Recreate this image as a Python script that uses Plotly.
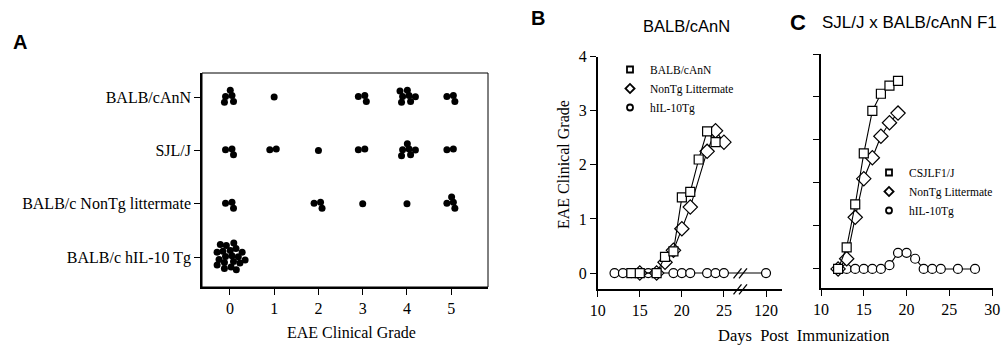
import math
import plotly.graph_objects as go

W, H = 1001, 345

# ---------------- Panel A data (EAE clinical grade per mouse) ----------------
a_groups = ["BALB/cAnN", "SJL/J", "BALB/c NonTg littermate", "BALB/c hIL-10 Tg"]
a_balb = [0, 0, 0, 0, 0, 1, 3, 3, 3, 4, 4, 4, 4, 4, 4, 4, 5, 5, 5]
a_sjl = [0, 0, 0, 1, 1, 2, 3, 3, 4, 4, 4, 4, 4, 4, 5, 5]
a_nontg = [0, 0, 0, 2, 2, 2, 3, 4, 5, 5, 5, 5]
a_hil10 = [0] * 20
a_grade_ticks = [0, 1, 2, 3, 4, 5]

# ---------------- Panel B data (BALB/cAnN) ----------------
b_balb_days = [14, 15, 17, 18, 19, 20, 21, 22, 23, 24]
b_balb_grade = [0, 0, 0, 0.3, 0.4, 1.4, 1.5, 2.1, 2.62, 2.42]
b_nontg_days = [15, 17, 18, 19, 20, 21, 23, 24, 25]
b_nontg_grade = [0, 0, 0.2, 0.42, 0.82, 1.22, 2.25, 2.63, 2.42]
b_hil_days = [12, 13, 14, 15, 16, 17, 19, 20, 21, 23, 24, 25, 120]
b_hil_grade = [0, 0, 0, 0, 0, 0, 0, 0, 0, 0, 0, 0, 0]
b_xticks = [10, 15, 20, 25, 120]
b_yticks = [0, 1, 2, 3, 4]

# ---------------- Panel C data (SJL/J x BALB/cAnN F1) ----------------
c_f1_days = [12, 13, 14, 15, 16, 17, 18, 19]
c_f1_grade = [0, 0.4, 1.2, 2.15, 2.94, 3.26, 3.41, 3.5]
c_nontg_days = [12, 13, 14, 15, 16, 17, 18, 19]
c_nontg_grade = [0, 0.19, 0.96, 1.68, 2.07, 2.47, 2.72, 2.9]
c_hil_days = [12, 13, 14, 15, 16, 17, 18, 19, 20, 21, 22, 23, 24, 26, 28]
c_hil_grade = [0, 0, 0, 0, 0, 0, 0.07, 0.3, 0.3, 0.19, 0, 0, 0, 0, 0]
c_xticks = [10, 15, 20, 25, 30]

SERIF = "Liberation Serif, Times New Roman, serif"
SANS = "Liberation Sans, Arial, sans-serif"

def px_x(p):
    return p / W

def px_y(p):
    return 1 - p / H

# axis break for panel B: days beyond the break are drawn 90 days earlier
def brk(d):
    return d - 90 if d > 26 else d

fig = go.Figure()

# ---------- Panel A: deterministic sunflower packing of the dots ----------
A_XPX, A_YPX = 44.3, 53.4  # px per unit (for converting the packing offsets)
GOLD = math.pi * (3 - math.sqrt(5))
def packed(grades, row):
    xs, ys = [], []
    for g in sorted(set(grades)):
        n = grades.count(g)
        for i in range(n):
            if n == 1:
                ox = oy = 0.0
            else:
                r = 3.6 * math.sqrt(i + 0.5)
                ox, oy = r * math.cos(i * GOLD + 0.6), r * math.sin(i * GOLD + 0.6)
            xs.append(g + ox / A_XPX)
            ys.append(row + oy / A_YPX)
    return xs, ys

for row, grades in zip([3, 2, 1, 0], [a_balb, a_sjl, a_nontg, a_hil10]):
    xs, ys = packed(grades, row)
    fig.add_trace(go.Scatter(x=xs, y=ys, mode="markers", xaxis="x", yaxis="y",
                             marker=dict(size=7, color="black"), showlegend=False,
                             cliponaxis=False, hoverinfo="skip"))

# ---------- Panels B and C ----------
mk = dict(color="white", line=dict(color="black", width=1.2))
def series(days, grades, sym, size, xa, ya, mapper=lambda d: d):
    return go.Scatter(x=[mapper(d) for d in days], y=grades, mode="lines+markers",
                      xaxis=xa, yaxis=ya, line=dict(color="black", width=1.1),
                      marker=dict(symbol=sym, size=size, **mk), showlegend=False,
                      cliponaxis=False)

fig.add_trace(series(b_hil_days, b_hil_grade, "circle", 9, "x2", "y2", brk))
fig.add_trace(series(b_nontg_days, b_nontg_grade, "diamond", 11, "x2", "y2"))
fig.add_trace(series(b_balb_days, b_balb_grade, "square", 9, "x2", "y2"))

fig.add_trace(series(c_hil_days, c_hil_grade, "circle", 9, "x3", "y3"))
fig.add_trace(series(c_nontg_days, c_nontg_grade, "diamond", 11, "x3", "y3"))
fig.add_trace(series(c_f1_days, c_f1_grade, "square", 9, "x3", "y3"))

# legend entries (marker only)
for name, sym, lg in [("BALB/cAnN", "square", "legend"), ("NonTg Littermate", "diamond", "legend"),
                      ("hIL-10Tg", "circle", "legend"),
                      ("CSJLF1/J", "square", "legend2"), ("NonTg Littermate", "diamond", "legend2"),
                      ("hIL-10Tg", "circle", "legend2")]:
    fig.add_trace(go.Scatter(x=[None], y=[None], mode="markers", name=name, legend=lg,
                             xaxis="x2" if lg == "legend" else "x3",
                             yaxis="y2" if lg == "legend" else "y3",
                             marker=dict(symbol=sym, size=6 if sym != "diamond" else 7,
                                         color="white", line=dict(color="black", width=1.8))))

tickfont = dict(family=SERIF, size=16, color="black")
axcommon = dict(showgrid=False, zeroline=False, showline=True, linecolor="black",
                linewidth=1.6, ticks="outside", ticklen=6, tickwidth=1.4,
                tickcolor="black", tickfont=tickfont, automargin=False)

fig.update_layout(
    width=W, height=H, margin=dict(l=0, r=0, t=0, b=0, autoexpand=False),
    paper_bgcolor="white", plot_bgcolor="white",
    font=dict(family=SERIF, color="black"),
    xaxis=dict(domain=[px_x(202), px_x(488)], range=[-0.63, 5.83], anchor="y",
               tickvals=a_grade_ticks, **axcommon),
    yaxis=dict(domain=[px_y(287), px_y(73)], range=[-0.56, 3.45], anchor="x",
               tickvals=[3, 2, 1, 0], ticktext=a_groups, **axcommon),
    xaxis2=dict(domain=[px_x(597.7), px_x(782)], range=[10, 31.9], anchor="y2",
                tickvals=[brk(t) for t in b_xticks], ticktext=[str(t) for t in b_xticks], **axcommon),
    yaxis2=dict(domain=[px_y(289.3), px_y(56.7)], range=[-0.3, 4.0], anchor="x2",
                tickvals=b_yticks, **axcommon),
    xaxis3=dict(domain=[px_x(821), px_x(993)], range=[10, 30.1], anchor="y3",
                tickvals=c_xticks, **axcommon),
    yaxis3=dict(domain=[px_y(288.3), px_y(54)], range=[-0.36, 4.0], anchor="x3",
                tick0=0, dtick=0.8, showticklabels=False, **axcommon),
    legend=dict(x=px_x(610), y=px_y(55), xanchor="left", yanchor="top",
                bgcolor="rgba(0,0,0,0)", font=dict(family=SERIF, size=11.5),
                tracegroupgap=0, itemclick=False),
    legend2=dict(x=px_x(998), y=px_y(158), xanchor="right", yanchor="top",
                 bgcolor="rgba(0,0,0,0)", font=dict(family=SERIF, size=11.5),
                 tracegroupgap=0, itemclick=False),
)

# panel A frame (thin top/right)
fig.add_shape(type="rect", xref="paper", yref="paper", x0=px_x(202), x1=px_x(488),
              y0=px_y(287), y1=px_y(73), line=dict(color="black", width=1), layer="below")

# axis-break marks in panel B
for cy in (273.3, 289.3):
    for cx in (737.5, 743.0):
        fig.add_shape(type="line", xref="paper", yref="paper",
                      x0=px_x(cx - 4), y0=px_y(cy + 5), x1=px_x(cx + 4), y1=px_y(cy - 5),
                      line=dict(color="black", width=1.3))

ann = [
    dict(text="<b>A</b>", x=px_x(20), y=px_y(42), font=dict(family=SANS, size=20)),
    dict(text="<b>B</b>", x=px_x(538), y=px_y(17.5), font=dict(family=SANS, size=20)),
    dict(text="<b>C</b>", x=px_x(798), y=px_y(23), font=dict(family=SANS, size=22)),
    dict(text="BALB/cAnN", x=px_x(686), y=px_y(26), font=dict(family=SANS, size=16.5)),
    dict(text="SJL/J x BALB/cAnN F1", x=px_x(909), y=px_y(23), font=dict(family=SANS, size=17)),
    dict(text="EAE Clinical Grade", x=px_x(351), y=px_y(332), font=dict(family=SERIF, size=16)),
    dict(text="EAE Clinical Grade", x=px_x(563), y=px_y(165), textangle=-90,
         font=dict(family=SERIF, size=16)),
    dict(text="Days&nbsp;&nbsp;Post&nbsp;&nbsp;Immunization", x=px_x(803), y=px_y(335),
         font=dict(family=SERIF, size=16.5)),
]
for a in ann:
    fig.add_annotation(xref="paper", yref="paper", showarrow=False,
                       xanchor="center", yanchor="middle", **a)

fig.write_html("out.html", config={"displayModeBar": False},
               post_script="document.body.style.margin='0';document.body.style.overflow='hidden';")
